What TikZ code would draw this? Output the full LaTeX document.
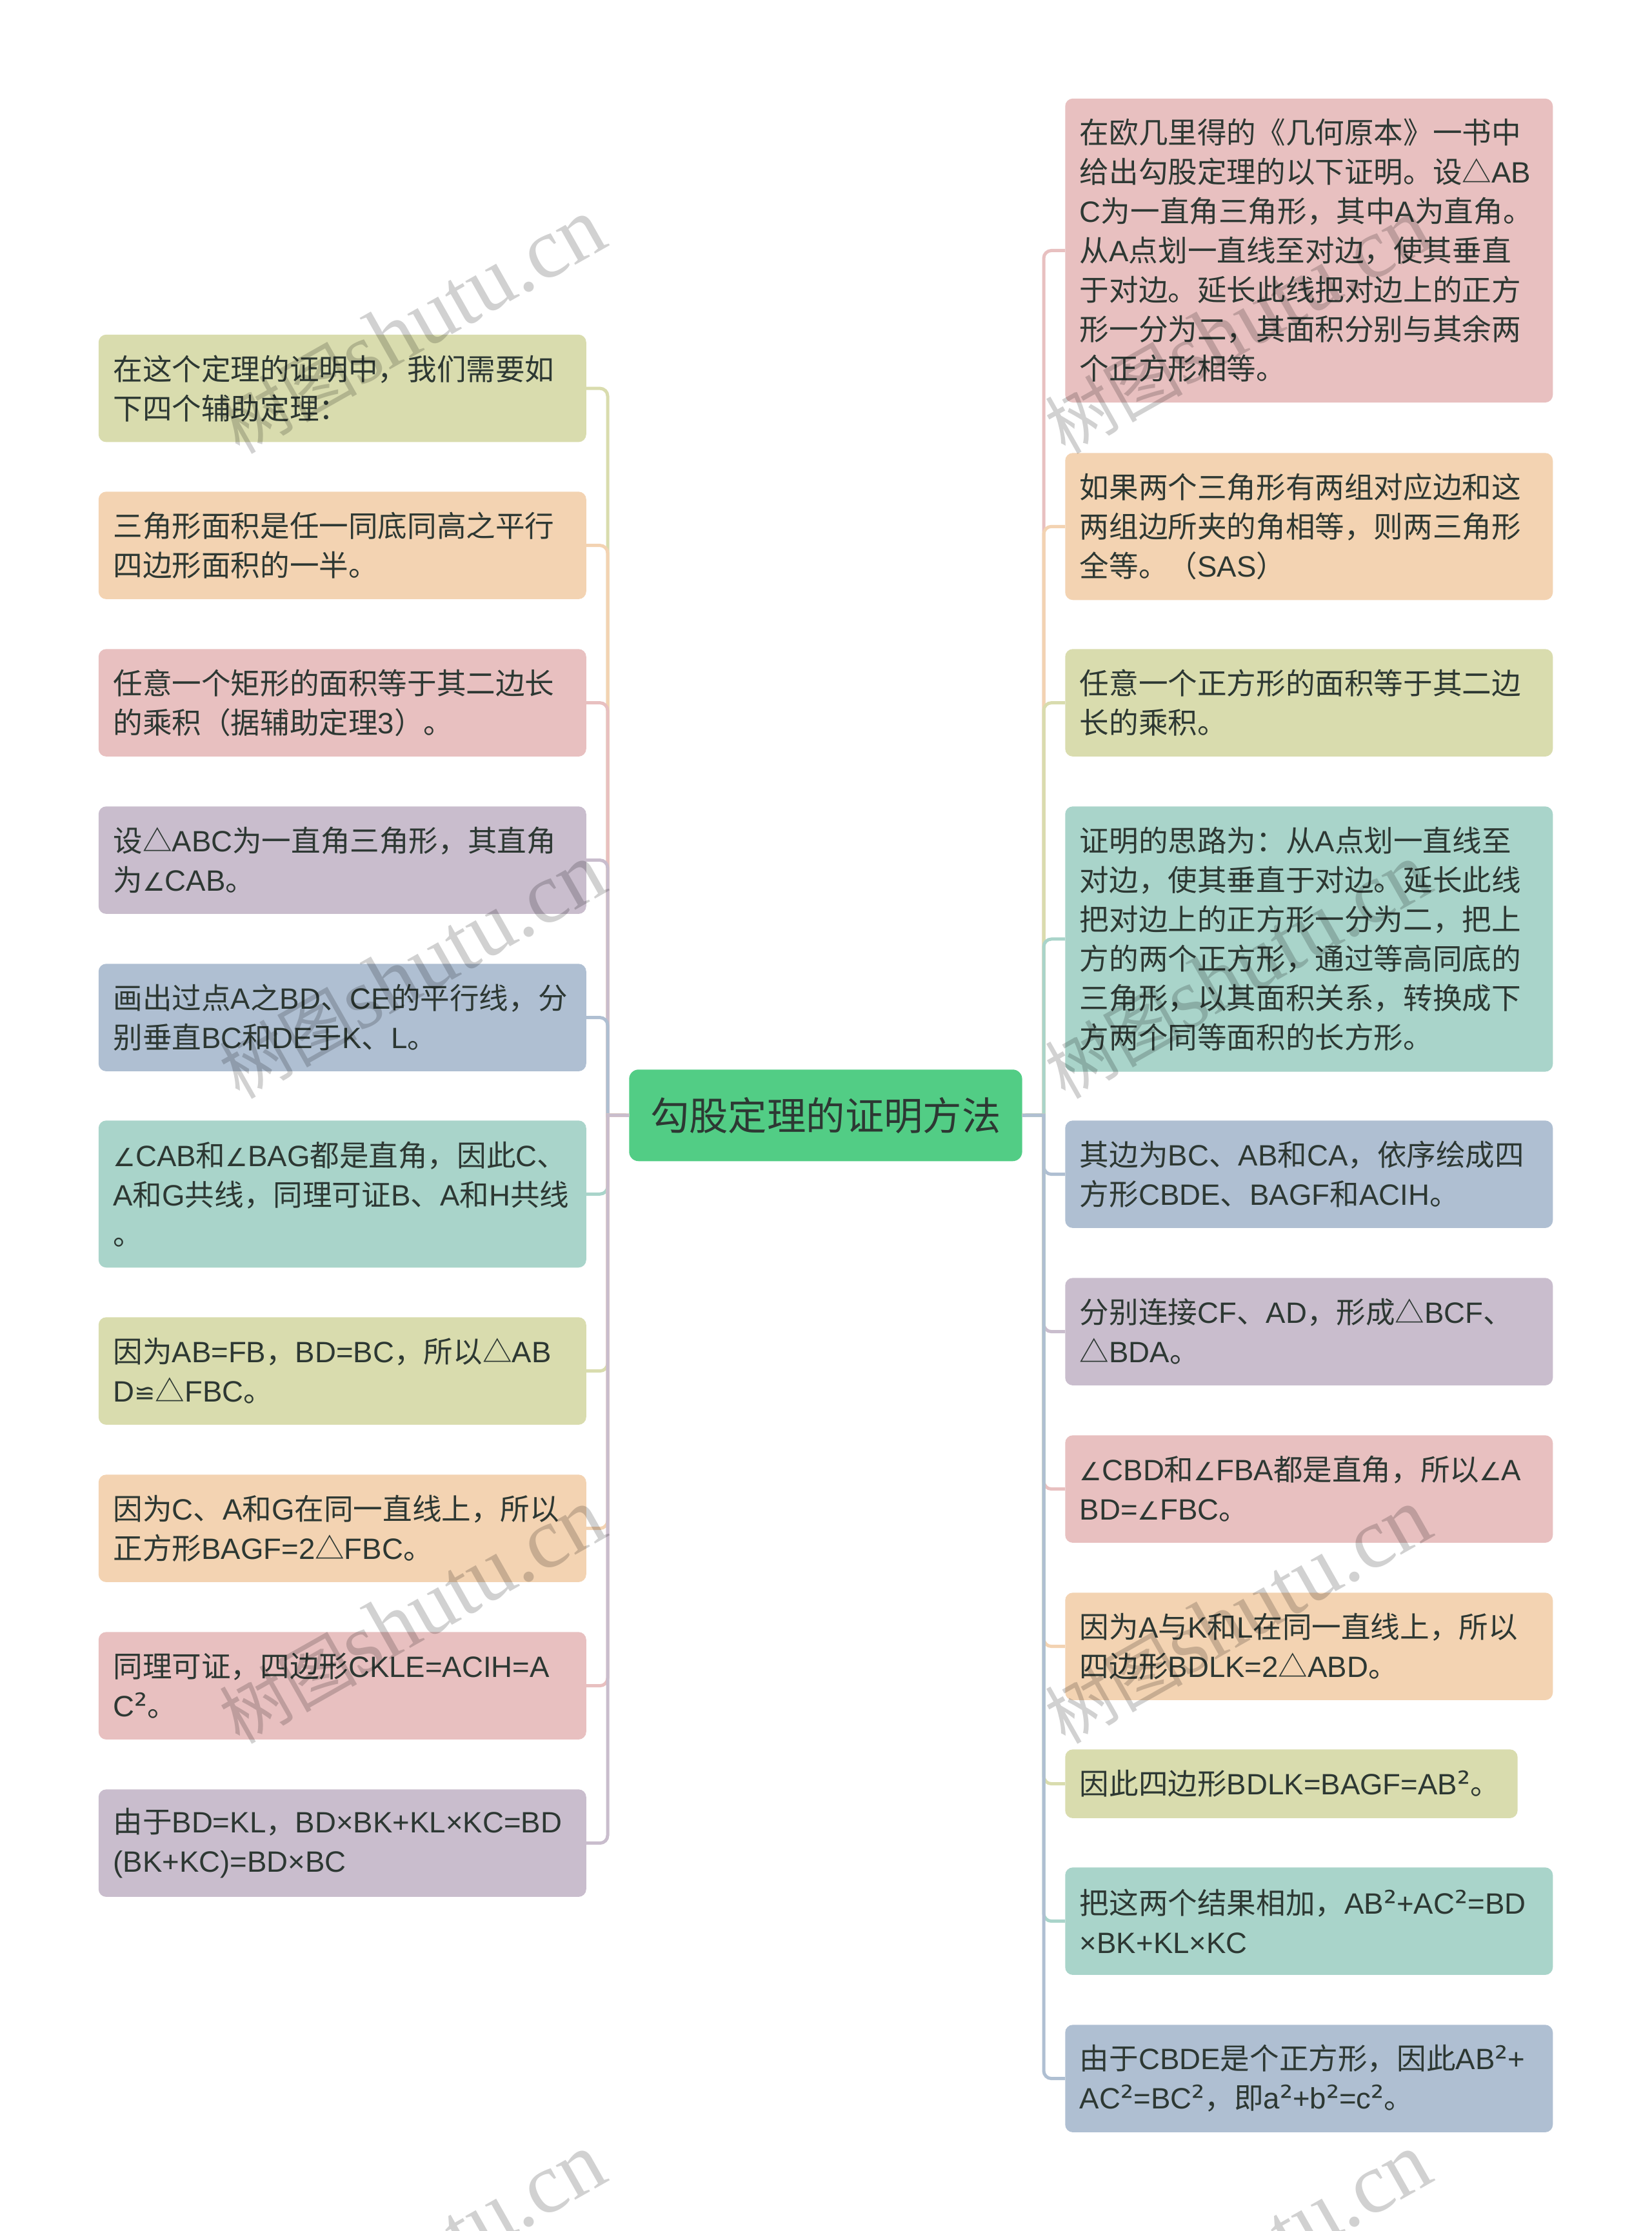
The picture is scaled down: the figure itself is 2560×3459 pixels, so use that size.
\documentclass[tikz,border=0pt]{standalone}
\usepackage{xcolor}
\usepackage{tikz}
\usepackage{fontspec}
\setmainfont{Liberation Sans}
\newfontfamily\cjk{Noto Sans CJK SC}
\newfontfamily\symbolfont[Scale=0.85]{DejaVu Sans}
\newfontfamily\squarefont[Scale=1.1]{DejaVu Sans}
\newfontfamily\markserif[Scale=1.25]{Liberation Serif}

% each class of characters brings its own font
\XeTeXinterchartokenstate=1
\newXeTeXintercharclass\zhclass
\newXeTeXintercharclass\symclass
\newXeTeXintercharclass\squareclass
\newcount\zhcode
\zhcode="4E00
\loop\ifnum\zhcode<"A000
	\XeTeXcharclass\zhcode=\zhclass
	\advance\zhcode by 1
\repeat
\XeTeXcharclass`，=\zhclass
\XeTeXcharclass`。=\zhclass
\XeTeXcharclass`、=\zhclass
\XeTeXcharclass`：=\zhclass
\XeTeXcharclass`（=\zhclass
\XeTeXcharclass`）=\zhclass
\XeTeXcharclass`《=\zhclass
\XeTeXcharclass`》=\zhclass
\XeTeXcharclass`△=\zhclass
\XeTeXcharclass`∠=\symclass
\XeTeXcharclass`≌=\symclass
\XeTeXcharclass`²=\squareclass
\newcommand{\settarget}[2]{%
	\XeTeXinterchartoks 4095 #1={#2}%
	\ifnum#1=0 \else\XeTeXinterchartoks 0 #1={#2}\fi
	\ifnum#1=\zhclass \else\XeTeXinterchartoks \zhclass #1={#2}\fi
	\ifnum#1=\symclass \else\XeTeXinterchartoks \symclass #1={#2}\fi
	\ifnum#1=\squareclass \else\XeTeXinterchartoks \squareclass #1={#2}\fi}
\settarget{0}{\rmfamily}
\settarget{\zhclass}{\cjk}
\settarget{\symclass}{\symbolfont}
\settarget{\squareclass}{\squarefont}

\definecolor{linkyellow}{HTML}{D9DCAE}
\definecolor{linkorange}{HTML}{F3D3B2}
\definecolor{linkpink}{HTML}{E8C0C0}
\definecolor{linkpurple}{HTML}{C9BDCD}
\definecolor{linkblue}{HTML}{AFBFD2}
\definecolor{linkteal}{HTML}{A9D4CA}
\definecolor{rootgreen}{HTML}{52CD85}
\definecolor{inkgray}{HTML}{2D3833}

\begin{document}
\begin{tikzpicture}[x=0.75pt,y=0.75pt,yscale=-1,xscale=1,
	leaf/.style={rectangle,anchor=north west,rounded corners=9pt,inner xsep=17pt,inner ysep=0pt,
		text width=533pt,minimum height=125pt,align=left,text=inkgray,
		font=\fontsize{34.2pt}{45.75pt}\selectfont,execute at end node={\endgraf\vskip 2pt}},
	link/.style={line width=3.75pt},
	watermark/.style={rotate=29.5,text=black,text opacity=0.18,inner sep=0pt,
		font=\fontsize{80pt}{96pt}\selectfont}]
	
	\useasboundingbox (0,0) rectangle (2560,3459);
	
	% Root Node
	\node [rectangle,anchor=north west,rounded corners=11pt,fill=rootgreen,minimum width=457pt,minimum height=106.5pt,inner sep=0pt,text=inkgray,font=\fontsize{45.3pt}{50pt}\selectfont] (root) at (975,1658) {勾股定理的证明方法};
	\coordinate (ltrunk) at (942,1729);
	\coordinate (rtrunk) at (1618,1729);
	
	% Left Text Nodes
	\node [leaf,fill=linkyellow] (lemma) at (152.5,518.5) {在这个定理的证明中，我们需要如\\下四个辅助定理：};
	\node [leaf,fill=linkorange] (halfarea) at (152.5,762) {三角形面积是任一同底同高之平行\\四边形面积的一半。};
	\node [leaf,fill=linkpink] (rectarea) at (152.5,1006) {任意一个矩形的面积等于其二边长\\的乘积（据辅助定理3）。};
	\node [leaf,fill=linkpurple] (settri) at (152.5,1250) {设△ABC为一直角三角形，其直角\\为∠CAB。};
	\node [leaf,fill=linkblue] (parallel) at (152.5,1494) {画出过点A之BD、CE的平行线，分\\别垂直BC和DE于K、L。};
	\node [leaf,fill=linkteal,minimum height=171pt] (collinear) at (152.5,1737) {∠CAB和∠BAG都是直角，因此C、\\A和G共线，同理可证B、A和H共线\\。};
	\node [leaf,fill=linkyellow] (congruent) at (152.5,2042) {因为AB=FB，BD=BC，所以△AB\\D≌△FBC。};
	\node [leaf,fill=linkorange] (bagf) at (152.5,2286) {因为C、A和G在同一直线上，所以\\正方形BAGF=2△FBC。};
	\node [leaf,fill=linkpink] (ckle) at (152.5,2530) {同理可证，四边形CKLE=ACIH=A\\C²。};
	\node [leaf,fill=linkpurple] (sumbd) at (152.5,2774) {由于BD=KL，BD×BK+KL×KC=BD\\(BK+KC)=BD×BC};
	
	% Right Text Nodes
	\node [leaf,fill=linkpink,minimum height=353.5pt] (euclid) at (1651,152.5) {在欧几里得的《几何原本》一书中\\给出勾股定理的以下证明。设△AB\\C为一直角三角形，其中A为直角。\\从A点划一直线至对边，使其垂直\\于对边。延长此线把对边上的正方\\形一分为二，其面积分别与其余两\\个正方形相等。};
	\node [leaf,fill=linkorange,minimum height=171pt] (sas) at (1651,702) {如果两个三角形有两组对应边和这\\两组边所夹的角相等，则两三角形\\全等。（SAS）};
	\node [leaf,fill=linkyellow] (sqarea) at (1651,1006) {任意一个正方形的面积等于其二边\\长的乘积。};
	\node [leaf,fill=linkteal,minimum height=308.5pt] (idea) at (1651,1250) {证明的思路为：从A点划一直线至\\对边，使其垂直于对边。延长此线\\把对边上的正方形一分为二，把上\\方的两个正方形，通过等高同底的\\三角形，以其面积关系，转换成下\\方两个同等面积的长方形。};
	\node [leaf,fill=linkblue] (cbde) at (1651,1737) {其边为BC、AB和CA，依序绘成四\\方形CBDE、BAGF和ACIH。};
	\node [leaf,fill=linkpurple] (joinbcf) at (1651,1981) {分别连接CF、AD，形成△BCF、\\△BDA。};
	\node [leaf,fill=linkpink] (anglecbd) at (1651,2225) {∠CBD和∠FBA都是直角，所以∠A\\BD=∠FBC。};
	\node [leaf,fill=linkorange] (bdlk) at (1651,2469) {因为A与K和L在同一直线上，所以\\四边形BDLK=2△ABD。};
	\node [leaf,fill=linkyellow,text width=492pt,minimum height=80pt] (bdlkab) at (1651,2712) {因此四边形BDLK=BAGF=AB²。};
	\node [leaf,fill=linkteal] (addup) at (1651,2895) {把这两个结果相加，AB²+AC²=BD\\×BK+KL×KC};
	\node [leaf,fill=linkblue] (finish) at (1651,3139) {由于CBDE是个正方形，因此AB²+\\AC²=BC²，即a²+b²=c²。};
	
	% Left Connectors
	\draw [link,linkyellow] (root.west) -- (ltrunk) [rounded corners=9pt] -- (ltrunk |- lemma) -- (lemma.east);
	\draw [link,linkorange] (root.west) -- (ltrunk) [rounded corners=9pt] -- (ltrunk |- halfarea) -- (halfarea.east);
	\draw [link,linkpink] (root.west) -- (ltrunk) [rounded corners=9pt] -- (ltrunk |- rectarea) -- (rectarea.east);
	\draw [link,linkpurple] (root.west) -- (ltrunk) [rounded corners=9pt] -- (ltrunk |- settri) -- (settri.east);
	\draw [link,linkblue] (root.west) -- (ltrunk) [rounded corners=9pt] -- (ltrunk |- parallel) -- (parallel.east);
	\draw [link,linkteal] (root.west) -- (ltrunk) [rounded corners=9pt] -- (ltrunk |- collinear) -- (collinear.east);
	\draw [link,linkyellow] (root.west) -- (ltrunk) [rounded corners=9pt] -- (ltrunk |- congruent) -- (congruent.east);
	\draw [link,linkorange] (root.west) -- (ltrunk) [rounded corners=9pt] -- (ltrunk |- bagf) -- (bagf.east);
	\draw [link,linkpink] (root.west) -- (ltrunk) [rounded corners=9pt] -- (ltrunk |- ckle) -- (ckle.east);
	\draw [link,linkpurple] (root.west) -- (ltrunk) [rounded corners=9pt] -- (ltrunk |- sumbd) -- (sumbd.east);
	
	% Right Connectors
	\draw [link,linkpink] (root.east) -- (rtrunk) [rounded corners=9pt] -- (rtrunk |- euclid) -- (euclid.west);
	\draw [link,linkorange] (root.east) -- (rtrunk) [rounded corners=9pt] -- (rtrunk |- sas) -- (sas.west);
	\draw [link,linkyellow] (root.east) -- (rtrunk) [rounded corners=9pt] -- (rtrunk |- sqarea) -- (sqarea.west);
	\draw [link,linkteal] (root.east) -- (rtrunk) [rounded corners=9pt] -- (rtrunk |- idea) -- (idea.west);
	\draw [link,linkblue] (root.east) -- (rtrunk) [rounded corners=9pt] -- (rtrunk |- cbde) -- (cbde.west);
	\draw [link,linkpurple] (root.east) -- (rtrunk) [rounded corners=9pt] -- (rtrunk |- joinbcf) -- (joinbcf.west);
	\draw [link,linkpink] (root.east) -- (rtrunk) [rounded corners=9pt] -- (rtrunk |- anglecbd) -- (anglecbd.west);
	\draw [link,linkorange] (root.east) -- (rtrunk) [rounded corners=9pt] -- (rtrunk |- bdlk) -- (bdlk.west);
	\draw [link,linkyellow] (root.east) -- (rtrunk) [rounded corners=9pt] -- (rtrunk |- bdlkab) -- (bdlkab.west);
	\draw [link,linkteal] (root.east) -- (rtrunk) [rounded corners=9pt] -- (rtrunk |- addup) -- (addup.west);
	\draw [link,linkblue] (root.east) -- (rtrunk) [rounded corners=9pt] -- (rtrunk |- finish) -- (finish.west);
	
	% Watermark Nodes
	\node [watermark] (markone) at (639,506) {\XeTeXinterchartokenstate=0 \cjk 树图\markserif shutu.cn};
	\node [watermark] (marktwo) at (1919,506) {\XeTeXinterchartokenstate=0 \cjk 树图\markserif shutu.cn};
	\node [watermark] (markthree) at (639,1506) {\XeTeXinterchartokenstate=0 \cjk 树图\markserif shutu.cn};
	\node [watermark] (markfour) at (1919,1506) {\XeTeXinterchartokenstate=0 \cjk 树图\markserif shutu.cn};
	\node [watermark] (markfive) at (639,2506) {\XeTeXinterchartokenstate=0 \cjk 树图\markserif shutu.cn};
	\node [watermark] (marksix) at (1919,2506) {\XeTeXinterchartokenstate=0 \cjk 树图\markserif shutu.cn};
	\node [watermark] (markseven) at (639,3506) {\XeTeXinterchartokenstate=0 \cjk 树图\markserif shutu.cn};
	\node [watermark] (markeight) at (1919,3506) {\XeTeXinterchartokenstate=0 \cjk 树图\markserif shutu.cn};
\end{tikzpicture}
\end{document}
